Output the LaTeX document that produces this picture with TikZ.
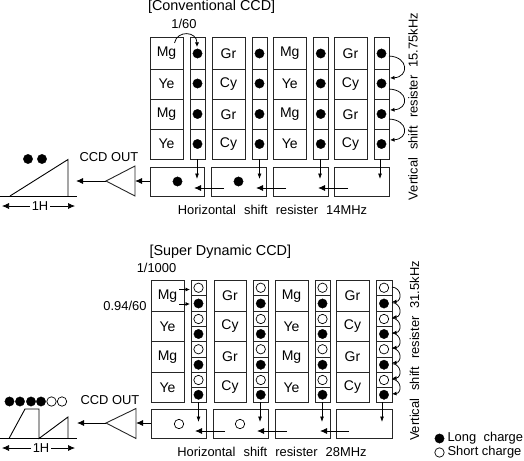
\documentclass[tikz,border=0pt]{standalone}
\usepackage{fontspec}
\setmainfont{Liberation Sans}
\usetikzlibrary{arrows.meta}
\tikzset{
  box/.style={draw=black!85,line width=0.9pt,inner sep=0pt,outer sep=0pt,font=\fontsize{14}{15}\selectfont},
  lbl/.style={inner sep=0pt,outer sep=0pt,font=\fontsize{12.9}{14}\selectfont},
  ttl/.style={inner sep=0pt,outer sep=0pt,font=\fontsize{14.4}{15}\selectfont},
  full/.style={circle,fill=black,draw=black,line width=0.3pt,inner sep=0pt,minimum size=9.4pt},
  open/.style={circle,fill=white,draw=black,line width=0.7pt,inner sep=0pt,minimum size=9.4pt},
  conn/.style={line width=0.75pt,-{Latex[length=5.5pt,width=4pt]}},
  hconn/.style={line width=0.9pt,-{Latex[length=7pt,width=6pt]}},
  curve/.style={line width=0.75pt,-{Latex[length=4.5pt,width=4pt]}},
  wave/.style={line width=0.9pt,line join=miter},
  amp/.style={draw=black!85,line width=0.9pt}
}
\newcommand{\cellbox}[6]{\node[box,minimum width={(#4-#2)*1pt},minimum height={(#5-#3)*1pt}] (#1) at ({(#2+#4)/2},{(#3+#5)/2}) {#6};}
\begin{document}
\begin{tikzpicture}[x=1pt,y=-1pt]
\useasboundingbox (0,0) rectangle (524,460);
%% ===== Conventional =====
\node[ttl,anchor=west] (t1) at (148,7) {[Conventional CCD]};
\node[lbl] (t160) at (184,24) {1/60};
\foreach \n/\xa/\xb/\ta/\tb in {1/150/183/Mg/Ye,2/212/245/Gr/Cy,3/273.5/306/Mg/Ye,4/334/367/Gr/Cy}{
  \cellbox{ta\n a}{\xa}{37.5}{\xb}{69}{\ta}
  \cellbox{ta\n b}{\xa}{69}{\xb}{99}{\tb}
  \cellbox{ta\n c}{\xa}{99}{\xb}{129.5}{\ta}
  \cellbox{ta\n d}{\xa}{129.5}{\xb}{159}{\tb}
}
\foreach \n/\xa/\xb in {1/190/205,2/252/267,3/313/328.5,4/374/389}{
  \cellbox{tr\n a}{\xa}{37.5}{\xb}{69}{}
  \cellbox{tr\n b}{\xa}{69}{\xb}{99}{}
  \cellbox{tr\n c}{\xa}{99}{\xb}{129.5}{}
  \cellbox{tr\n d}{\xa}{129.5}{\xb}{159}{}
  \node[full] (td\n a) at ({(\xa+\xb)/2},53.5) {};
  \node[full] (td\n b) at ({(\xa+\xb)/2},83.5) {};
  \node[full] (td\n c) at ({(\xa+\xb)/2},114) {};
  \node[full] (td\n d) at ({(\xa+\xb)/2},144) {};
}
\cellbox{th1}{150}{167}{204}{196}{}
\cellbox{th2}{211.5}{167}{266}{196}{}
\cellbox{th3}{273.5}{167}{328.5}{196}{}
\cellbox{th4}{334.5}{167}{389}{196}{}
\node[full] (thd1) at (177.5,181.5) {};
\node[full] (thd2) at (238.5,181.5) {};
\foreach \n/\x in {1/197,2/259.5,3/320,4/380}{
  \coordinate (tv\n) at (\x,179);
  \draw[conn] (\x,159) -- (tv\n);
}
\coordinate (th12s) at (224,188); \coordinate (th12e) at (194,188);
\coordinate (th23s) at (286,188); \coordinate (th23e) at (256,188);
\coordinate (th34s) at (348,188); \coordinate (th34e) at (318,188);
\draw[hconn] (th12s) -- (th12e);
\draw[hconn] (th23s) -- (th23e);
\draw[hconn] (th34s) -- (th34e);
\coordinate (tc0s) at (174.5,43); \coordinate (tc0e) at (197,47);
\draw[curve] (tc0s) .. controls (177,30) and (197,31) .. (tc0e);
\coordinate (tc1s) at (389,56); \coordinate (tc1e) at (390,78);
\coordinate (tc2s) at (389,89); \coordinate (tc2e) at (390,110);
\coordinate (tc3s) at (389,119); \coordinate (tc3e) at (390,140);
\draw[curve] (tc1s) .. controls (409,57) and (409,77) .. (tc1e);
\draw[curve] (tc2s) .. controls (409,90) and (409,109) .. (tc2e);
\draw[curve] (tc3s) .. controls (409,120) and (409,139) .. (tc3e);
\coordinate (ta1) at (135,166); \coordinate (ta2) at (135,196); \coordinate (ta3) at (106,181);
\draw[amp] (ta1) -- (ta2) -- (ta3) -- cycle;
\coordinate (tai) at (135,181); \coordinate (tao) at (76,181);
\draw[hconn] (th1.west |- tai) -- (tai);
\draw[hconn] (ta3) -- (tao);
\node[lbl] (tout) at (109,157) {CCD OUT};
\node[full] (tw1) at (28,159) {};
\node[full] (tw2) at (42,159) {};
\coordinate (tb0) at (0,196); \coordinate (tb1) at (77,196);
\draw[wave] (tb0) -- (tb1);
\draw[wave] (10,196) -- (68,159.5) -- (68,196);
\node[lbl] (t1h) at (40,206) {1H};
\coordinate (t1hl) at (2,206); \coordinate (t1hr) at (75,206);
\draw[hconn,line width=0.7pt] (t1h.west)+(-2,0) -- (t1hl);
\draw[hconn,line width=0.7pt] (t1h.east)+(2,0) -- (t1hr);
\node[lbl] (thl) at (272.5,210) {Horizontal\hspace{0.35em} shift\hspace{0.35em} resister\hspace{0.35em} 14MHz};
\node[lbl,rotate=90] (tvl) at (413,106.5) {Vertical\hspace{0.35em} shift\hspace{0.35em} resister\hspace{0.35em} 15.75kHz};
%% ===== Super Dynamic =====
\node[ttl,anchor=west] (b1) at (149.5,251.5) {[Super Dynamic CCD]};
\node[lbl] (b1000) at (156.5,268) {1/1000};
\node[lbl] (b094) at (125,305.5) {0.94/60};
\foreach \n/\xa/\xb/\ta/\tb in {1/151/184/Mg/Ye,2/214/246/Gr/Cy,3/275/308/Mg/Ye,4/336/369/Gr/Cy}{
  \cellbox{ba\n a}{\xa}{280}{\xb}{311.5}{\ta}
  \cellbox{ba\n b}{\xa}{311.5}{\xb}{341.5}{\tb}
  \cellbox{ba\n c}{\xa}{341.5}{\xb}{372.5}{\ta}
  \cellbox{ba\n d}{\xa}{372.5}{\xb}{402}{\tb}
}
\foreach \n/\xa/\xb in {1/191/206,2/253.5/268,3/315/330,4/376/392}{
  \foreach \k/\ya/\yb/\st in {1/280/295.5/open,2/295.5/311.5/full,3/311.5/326.5/open,4/326.5/341.5/full,5/341.5/357/open,6/357/372.5/full,7/372.5/387.5/open,8/387.5/402/full}{
    \cellbox{br\n-\k}{\xa}{\ya}{\xb}{\yb}{}
    \node[\st] (bd\n-\k) at ({(\xa+\xb)/2},{(\ya+\yb)/2}) {};
  }
}
\cellbox{bh1}{151}{409.5}{206}{438.5}{}
\cellbox{bh2}{213}{409.5}{268}{438.5}{}
\cellbox{bh3}{275}{409.5}{330}{438.5}{}
\cellbox{bh4}{336}{409.5}{392}{438.5}{}
\node[open] (bhd1) at (179,424) {};
\node[open] (bhd2) at (240,424) {};
\foreach \n/\x in {1/198.5,2/260,3/322,4/382}{
  \coordinate (bv\n) at (\x,422);
  \draw[conn] (\x,402) -- (bv\n);
}
\coordinate (bh12s) at (225,431); \coordinate (bh12e) at (195,431);
\coordinate (bh23s) at (287,431); \coordinate (bh23e) at (257,431);
\coordinate (bh34s) at (349,431); \coordinate (bh34e) at (320,431);
\draw[hconn] (bh12s) -- (bh12e);
\draw[hconn] (bh23s) -- (bh23e);
\draw[hconn] (bh34s) -- (bh34e);
\coordinate (bs1s) at (179,289.5); \coordinate (bs1e) at (190,289.5);
\coordinate (bs2s) at (179,304); \coordinate (bs2e) at (190,304);
\draw[curve] (bs1s) -- (bs1e);
\draw[curve] (bs2s) -- (bs2e);
\foreach \k/\y in {1/288,2/303.5,3/319,4/334,5/349,6/364.5,7/380}{
  \coordinate (bcs\k) at (392,\y-1);
  \coordinate (bce\k) at (392,\y+14);
  \draw[curve] (bcs\k) .. controls (402,\y) and (402,\y+13) .. (bce\k);
}
\coordinate (ba1) at (136,408.5); \coordinate (ba2) at (136,438.5); \coordinate (ba3) at (106,423);
\draw[amp] (ba1) -- (ba2) -- (ba3) -- cycle;
\coordinate (bai) at (136,423); \coordinate (bao) at (77,423);
\draw[hconn] (bh1.west |- bai) -- (bai);
\draw[hconn] (ba3) -- (bao);
\node[lbl] (bout) at (110,400) {CCD OUT};
\foreach \k/\x in {1/9.5,2/20,3/31,4/41}{\node[full] (bw\k) at (\x,401.5) {};}
\node[open] (bw5) at (51.5,401.5) {};
\node[open] (bw6) at (62,401.5) {};
\coordinate (bb0) at (0,438.5); \coordinate (bb1) at (77,438.5);
\draw[wave] (bb0) -- (bb1);
\draw[wave] (9,438.5) -- (25,409) -- (39,409) -- (39,438.5) -- (68,417) -- (68,438.5);
\node[lbl] (b1h) at (41,448) {1H};
\coordinate (b1hl) at (2,448); \coordinate (b1hr) at (75,448);
\draw[hconn,line width=0.7pt] (b1h.west)+(-2,0) -- (b1hl);
\draw[hconn,line width=0.7pt] (b1h.east)+(2,0) -- (b1hr);
\node[lbl] (bhl) at (272,452) {Horizontal\hspace{0.35em} shift\hspace{0.35em} resister\hspace{0.35em} 28MHz};
\node[lbl,rotate=90] (bvl) at (414.5,351) {Vertical\hspace{0.35em} shift\hspace{0.35em} resister\hspace{0.35em} 31.5kHz};
\node[full] (lg1) at (439.5,438.5) {};
\node[open] (lg2) at (439.5,452.5) {};
\node[lbl,anchor=west] (lt1) at (447.5,438) {Long\hspace{0.3em} charge};
\node[lbl,anchor=west] (lt2) at (447.5,452) {Short charge};
\end{tikzpicture}
\end{document}
